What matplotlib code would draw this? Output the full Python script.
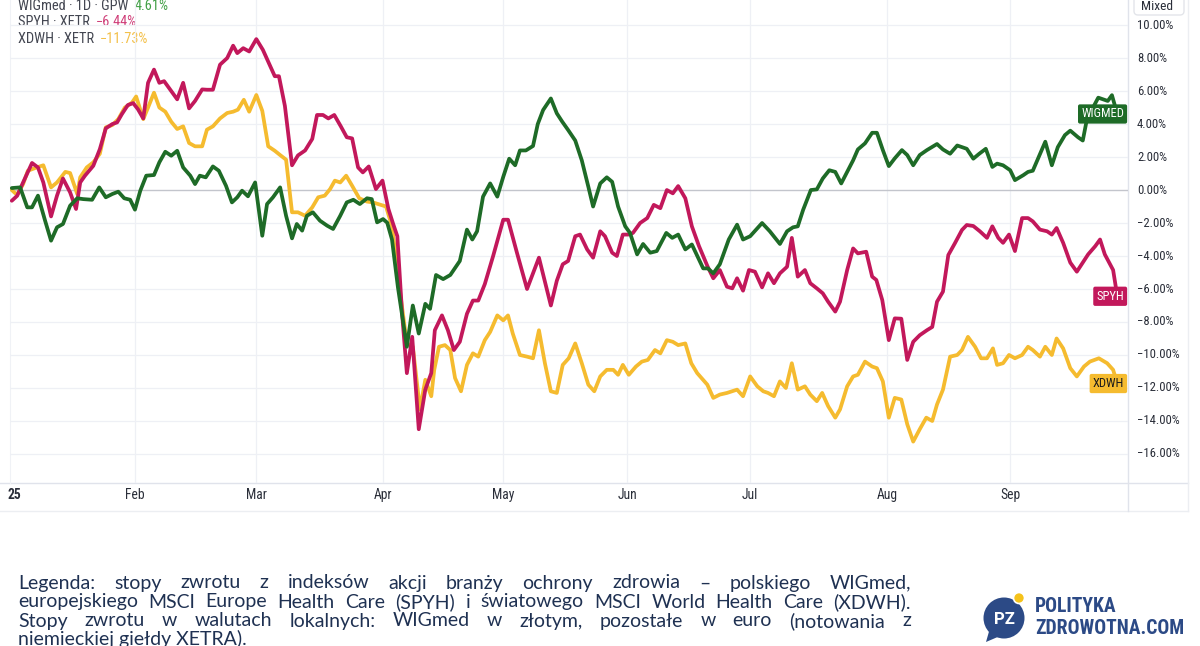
import matplotlib
matplotlib.use("Agg")
import matplotlib.pyplot as plt
from matplotlib import font_manager
from matplotlib.font_manager import FontProperties
from matplotlib.patches import Circle, FancyBboxPatch, Polygon

# ---------------- data (x = trading session number in 2025, y = % return) ----------------
month_labels = ["25", "Feb", "Mar", "Apr", "May", "Jun", "Jul", "Aug", "Sep"]
month_sessions = [1.8, 22, 42.4, 63.7, 83.9, 104.7, 125.4, 148.4, 169.1]
y_ticks = [10, 8, 6, 4, 2, 0, -2, -4, -6, -8, -10, -12, -14, -16]

wigmed = [(1.3, 0.12), (2.7, 0.16), (3.9, -1.05), (4.7, -1.05), (5.7, -0.34), (6.9, -1.86), (7.9, -3.07),
          (8.9, -2.26), (9.9, -2.06), (11.1, -0.95), (12.3, -0.5), (13.3, -0.55), (14.8, -0.59), (16.0, 0.16),
          (17.1, -0.44), (18.2, -0.24), (19.2, -0.1), (20.2, -0.5), (21.2, -0.59), (22.0, -1.19), (22.9, -0.04),
          (23.9, 0.87), (25.2, 0.91), (26.1, 1.68), (27.1, 2.32), (28.1, 2.08), (29.1, 2.38), (30.1, 1.37),
          (31.3, 0.87), (32.1, 0.36), (32.9, 0.87), (33.9, 0.77), (35.1, 1.43), (36.1, 1.17), (37.3, 0.26),
          (38.3, -0.75), (39.2, -0.44), (40.0, -0.04), (41.0, -0.38), (42.2, 0.46), (43.4, -2.77), (44.2, -0.85),
          (45.2, -0.44), (46.4, 0.16), (47.4, -1.56), (48.4, -2.93), (49.2, -2.06), (50.1, -2.46), (50.9, -1.56),
          (51.9, -1.35), (53.1, -1.86), (54.3, -2.16), (55.3, -2.36), (56.5, -1.56), (57.6, -0.75), (58.7, -0.59),
          (59.8, -0.85), (61.0, -0.5), (61.8, -0.55), (62.7, -1.96), (63.7, -1.76), (64.4, -1.98), (65.2, -3.0),
          (66.2, -5.9), (67.7, -9.5), (68.7, -7.0), (69.7, -8.7), (70.8, -6.9), (71.6, -7.2), (72.6, -5.15),
          (73.8, -5.4), (75.0, -5.15), (76.6, -4.3), (77.8, -2.4), (78.7, -3.0), (79.5, -2.5), (80.5, -0.4),
          (81.7, 0.4), (82.9, -0.4), (83.9, 0.8), (84.9, 1.9), (85.9, 1.5), (86.7, 2.4), (87.7, 2.4), (88.9, 2.67),
          (89.7, 4.0), (90.6, 4.85), (91.9, 5.55), (92.9, 4.65), (93.8, 4.15), (94.8, 3.64), (96.0, 3.0),
          (97.1, 1.8), (98.2, 0.2), (99.0, -1.0), (100.2, 0.4), (101.3, 0.77), (102.2, 0.5), (103.2, -1.0),
          (104.4, -2.2), (105.2, -2.6), (106.4, -3.9), (107.4, -3.27), (108.6, -3.8), (109.7, -3.7), (111.3, -2.6),
          (112.3, -2.9), (113.3, -2.7), (114.5, -3.6), (115.6, -3.3), (117.5, -4.75), (118.3, -4.75), (119.2, -5.05),
          (120.3, -4.5), (121.8, -3.0), (123.2, -2.1), (124.2, -3.0), (125.4, -2.8), (127.4, -2.0), (128.7, -2.5),
          (130.4, -3.27), (131.6, -2.5), (132.6, -2.26), (133.4, -2.2), (134.3, -1.2), (135.6, 0.0), (136.6, 0.04),
          (137.6, 0.7), (138.7, 1.2), (139.7, 1.1), (140.7, 0.4), (141.7, 1.1), (142.7, 1.8), (143.5, 2.46),
          (144.7, 2.83), (145.9, 3.47), (146.7, 3.47), (147.7, 2.42), (148.7, 1.45), (149.7, 1.92), (150.9, 2.42),
          (151.8, 2.12), (152.8, 1.5), (153.9, 2.12), (155.1, 2.42), (156.8, 2.79), (157.8, 2.46), (159.0, 2.2),
          (160.2, 2.7), (161.8, 2.5), (162.9, 1.9), (163.9, 2.2), (165.0, 2.5), (166.1, 1.4), (166.9, 1.6),
          (167.9, 1.5), (169.1, 1.2), (169.9, 0.6), (171.3, 0.9), (172.1, 1.1), (172.9, 1.17), (175.0, 2.93),
          (176.1, 1.5), (177.1, 2.6), (178.3, 3.33), (179.2, 3.6), (180.5, 3.2), (181.3, 3.0), (182.0, 4.3),
          (183.9, 5.6), (184.7, 5.5), (185.5, 5.4), (186.2, 5.75), (187.1, 4.61)]

spyh = [(1.3, -0.65), (2.2, -0.35), (3.2, 0.46), (4.7, 1.64), (5.7, 1.37), (6.6, 0.46), (7.9, -1.6), (8.9, -0.34),
        (9.9, 0.7), (11.1, -0.14), (12.1, -1.15), (12.8, 0.46), (13.6, 0.87), (15.0, 1.47), (16.1, 2.48),
        (17.1, 3.74), (18.2, 4.0), (19.0, 4.1), (19.8, 4.6), (20.8, 5.15), (21.7, 5.27), (22.5, 4.9), (23.4, 4.34),
        (24.2, 6.5), (25.2, 7.3), (26.1, 6.5), (26.9, 6.6), (27.9, 6.1), (29.1, 5.5), (30.1, 6.5), (31.1, 4.95),
        (32.1, 5.4), (33.3, 6.1), (34.1, 6.08), (35.1, 6.08), (36.3, 7.6), (37.5, 8.0), (38.5, 8.75), (39.2, 8.3),
        (40.2, 8.6), (41.2, 8.4), (42.4, 9.15), (43.5, 8.5), (44.5, 7.7), (45.5, 6.9), (46.2, 6.9), (47.2, 5.1),
        (48.4, 1.5), (49.4, 2.1), (50.6, 2.4), (51.8, 3.1), (52.6, 4.55), (53.6, 4.55), (54.5, 4.34), (55.5, 4.55),
        (56.6, 3.86), (57.6, 3.2), (58.5, 3.13), (59.5, 1.37), (60.3, 1.07), (61.3, 1.43), (62.5, 0.06),
        (63.6, 0.57), (64.6, -1.15), (65.4, -2.06), (66.1, -2.8), (66.9, -7.5), (67.7, -11.1), (68.6, -8.9),
        (69.7, -14.5), (70.8, -12.1), (71.8, -11.1), (72.4, -8.5), (73.6, -7.6), (74.6, -8.5), (75.6, -9.7),
        (76.6, -9.2), (77.8, -7.5), (78.8, -6.7), (79.7, -6.7), (80.8, -5.7), (82.2, -4.0), (83.9, -1.8),
        (84.7, -1.8), (86.2, -3.8), (87.9, -6.0), (89.9, -4.1), (91.9, -7.0), (92.9, -5.5), (93.9, -4.5),
        (94.8, -4.3), (96.0, -2.8), (96.8, -2.7), (98.0, -3.6), (99.0, -4.1), (100.2, -2.5), (101.0, -2.8),
        (102.2, -3.8), (103.0, -4.0), (104.0, -2.7), (104.9, -2.7), (105.7, -2.6), (106.9, -2.0), (108.1, -1.7),
        (109.2, -0.9), (110.3, -1.1), (111.4, 0.0), (112.4, -0.2), (113.3, 0.24), (114.5, -0.5), (115.6, -2.2),
        (116.8, -3.4), (118.2, -4.6), (119.2, -5.35), (120.3, -4.85), (121.5, -5.86), (122.4, -5.96),
        (123.2, -5.35), (124.2, -6.1), (125.2, -4.85), (126.2, -4.95), (127.4, -5.9), (128.4, -5.05),
        (129.4, -5.65), (130.4, -5.05), (131.6, -4.65), (132.4, -2.9), (133.4, -5.25), (134.6, -4.85),
        (135.5, -5.65), (136.6, -5.96), (137.6, -6.26), (138.5, -6.77), (139.7, -7.37), (140.5, -6.77),
        (141.7, -4.85), (142.7, -3.54), (143.5, -3.84), (144.9, -3.74), (145.9, -5.25), (146.6, -5.45),
        (147.6, -6.67), (148.7, -9.1), (149.7, -7.78), (150.8, -7.8), (151.8, -10.3), (152.8, -9.2), (153.9, -8.8),
        (155.1, -8.5), (156.0, -8.3), (156.8, -6.77), (157.8, -6.16), (158.7, -3.94), (159.8, -3.23),
        (161.0, -2.42), (161.8, -2.12), (162.9, -2.18), (164.0, -2.5), (165.2, -2.9), (166.1, -2.2), (167.1, -2.9),
        (167.9, -3.2), (168.9, -2.7), (169.9, -3.7), (171.1, -1.7), (172.1, -1.7), (172.9, -1.9), (174.1, -2.4),
        (175.3, -2.5), (176.1, -2.7), (176.9, -2.3), (178.0, -3.2), (179.2, -4.4), (180.3, -4.95), (181.3, -4.4),
        (182.2, -3.9), (183.4, -3.4), (184.2, -3.0), (185.0, -3.9), (186.4, -4.85), (187.1, -6.44)]

xdwh = [(1.3, 0.0), (2.2, -0.3), (3.2, 0.36), (4.0, 1.17), (5.5, 1.37), (6.6, 1.5), (7.9, 0.16), (8.9, 0.46),
        (10.3, 1.1), (11.1, 1.03), (12.3, -0.24), (12.8, 0.77), (13.9, 1.37), (15.0, 1.68), (16.1, 2.2),
        (17.1, 3.8), (18.2, 3.94), (19.2, 4.3), (20.3, 5.0), (21.5, 5.3), (22.2, 5.67), (23.4, 4.3), (24.2, 5.0),
        (25.2, 5.9), (26.1, 5.0), (27.1, 4.75), (28.1, 4.14), (29.1, 3.7), (30.1, 3.86), (31.1, 2.85), (32.1, 2.65),
        (33.3, 2.65), (34.1, 3.66), (35.1, 3.86), (36.3, 4.34), (37.5, 4.67), (38.5, 4.75), (39.3, 4.87),
        (40.3, 5.47), (41.2, 4.75), (42.4, 5.76), (43.4, 4.8), (44.4, 2.65), (45.5, 2.38), (46.4, 2.12),
        (47.4, 1.84), (48.4, -1.35), (49.4, -1.35), (50.6, -1.56), (51.8, -1.05), (52.8, -0.44), (53.9, -0.34),
        (54.8, 0.06), (55.6, 0.57), (56.5, 0.46), (57.5, 0.87), (58.5, 0.26), (59.7, -0.5), (61.0, -0.7),
        (62.0, -0.75), (63.2, -0.89), (64.2, -1.0), (65.2, -2.2), (66.6, -6.3), (67.7, -9.3), (68.7, -9.5),
        (69.9, -13.3), (70.8, -11.5), (71.8, -12.5), (72.3, -10.9), (73.1, -9.5), (74.1, -9.4), (75.0, -9.7),
        (75.8, -11.4), (76.8, -12.2), (77.8, -10.6), (78.8, -9.9), (79.7, -10.1), (80.8, -9.1), (81.7, -8.6),
        (82.9, -7.6), (83.9, -7.9), (84.7, -7.6), (85.5, -8.7), (86.7, -10.0), (87.9, -10.1), (88.9, -10.2),
        (89.9, -8.5), (90.9, -10.5), (91.9, -12.2), (92.9, -12.3), (93.9, -10.6), (94.9, -10.2), (96.0, -9.3),
        (97.1, -10.5), (98.2, -11.8), (99.2, -12.2), (100.2, -11.3), (101.3, -10.9), (102.4, -10.9),
        (103.2, -11.2), (104.0, -10.6), (105.0, -11.2), (106.2, -10.7), (107.2, -10.4), (108.2, -10.3),
        (109.4, -9.7), (110.3, -9.9), (111.4, -9.1), (112.4, -9.2), (113.3, -9.4), (114.5, -9.3), (115.5, -10.5),
        (116.5, -11.1), (118.2, -11.8), (119.2, -12.6), (120.3, -12.4), (121.5, -12.3), (123.2, -12.1),
        (124.2, -12.5), (125.4, -11.3), (126.6, -11.9), (127.6, -12.2), (128.4, -12.3), (129.4, -12.5),
        (130.4, -11.6), (131.4, -12.0), (132.4, -10.5), (133.4, -12.1), (134.6, -11.9), (135.5, -12.4),
        (136.6, -12.8), (137.5, -12.3), (138.5, -13.1), (139.7, -13.8), (140.5, -13.3), (141.7, -11.9),
        (142.7, -11.3), (143.5, -11.2), (144.7, -10.4), (145.9, -10.7), (146.7, -10.8), (147.7, -11.6),
        (148.7, -13.8), (149.7, -12.6), (150.8, -12.7), (151.8, -14.2), (152.8, -15.25), (153.9, -14.5),
        (155.0, -13.8), (156.0, -14.0), (156.8, -13.0), (157.8, -12.1), (159.0, -10.1), (160.2, -10.0),
        (161.0, -9.7), (162.0, -8.9), (163.2, -9.5), (164.2, -10.2), (165.2, -10.2), (166.2, -9.6),
        (166.9, -10.6), (167.9, -10.5), (168.9, -10.0), (169.9, -10.2), (171.1, -10.0), (172.1, -9.5),
        (172.9, -9.7), (174.1, -10.1), (175.0, -9.5), (176.1, -10.0), (176.9, -9.0), (178.0, -9.6),
        (179.2, -10.8), (180.3, -11.3), (181.5, -10.7), (182.5, -10.4), (184.0, -10.2), (185.4, -10.5),
        (186.4, -10.9), (187.1, -11.73)]

series_names = ["WIGmed · 1D · GPW", "SPYH · XETR", "XDWH · XETR"]
series_last = ["4.61%", "\u22126.44%", "\u221211.73%"]
series_tags = ["WIGMED", "SPYH", "XDWH"]
series_colors = ["#1e6b27", "#c2185b", "#f5bb2f"]
legend_value_colors = ["#43a047", "#d0407a", "#f3c04a"]
tag_text_colors = ["white", "white", "#1b1b1b"]

caption_lines = [
    "Legenda: stopy zwrotu z indeksów akcji branży ochrony zdrowia – polskiego WIGmed,",
    "europejskiego MSCI Europe Health Care (SPYH) i światowego MSCI World Health Care (XDWH).",
    "Stopy zwrotu w walutach lokalnych: WIGmed w złotym, pozostałe w euro (notowania z",
    "niemieckiej giełdy XETRA).",
]
logo_lines = ["POLITYKA", "ZDROWOTNA.COM"]


# ---------------- fonts ----------------
def _weight(f):
    w = f.weight
    if isinstance(w, (int, float)):
        return int(w)
    return {"bold": 700, "normal": 400, "regular": 400, "book": 400, "medium": 500,
            "semibold": 600, "demibold": 600, "light": 300}.get(str(w).lower(), 400)


def find_narrow(bold=False):
    prefs = ["liberation sans narrow", "roboto condensed", "open sans condensed", "dejavu sans condensed",
             "dejavu sans", "noto sans", "open sans", "roboto"]
    cands = []
    for f in font_manager.fontManager.ttflist:
        nm = f.name.lower()
        st = str(f.stretch).lower()
        narrowish = ("narrow" in nm or "condensed" in nm or
                     st in ("condensed", "semi-condensed", "extra-condensed"))
        if not narrowish or f.style != "normal":
            continue
        w = _weight(f)
        if bold and w < 600:
            continue
        if not bold and not (380 <= w <= 420):
            continue
        rank = next((i for i, p in enumerate(prefs) if nm.startswith(p)), len(prefs))
        cands.append((rank, f.fname))
    if cands:
        cands.sort()
        return cands[0][1]
    return None


avail = {f.name for f in font_manager.fontManager.ttflist}
ui_family = next((n for n in ["Roboto", "Liberation Sans", "DejaVu Sans"] if n in avail), "DejaVu Sans")
cap_family = next((n for n in ["Lato", "Open Sans", "Liberation Sans"] if n in avail), "DejaVu Sans")
narrow_reg = find_narrow(False)
narrow_bold = find_narrow(True)


def fp_ui(size, bold=False):
    path = narrow_bold if bold else narrow_reg
    if path:
        return FontProperties(fname=path, size=size)
    return FontProperties(family=[ui_family, "DejaVu Sans"], size=size,
                          weight="bold" if bold else "normal")


def fp_cap(size):
    return FontProperties(family=[cap_family, "DejaVu Sans"], size=size)


plt.rcParams["font.family"] = [ui_family, "DejaVu Sans"]

W, H = 1200, 646
fig = plt.figure(figsize=(W / 100, H / 100), dpi=100)
fig.patch.set_facecolor("white")
renderer = fig.canvas.get_renderer()

# pixel-space overlay for frame lines, text and logo
deco = fig.add_axes([0, 0, 1, 1], zorder=0)
deco.set_xlim(0, W)
deco.set_ylim(H, 0)
deco.axis("off")


def text_w(s, fp):
    t = deco.text(0, 0, s, fontproperties=fp)
    w = t.get_window_extent(renderer).width
    t.remove()
    return w


def fit(s, target_px, maker, bold=None, cap=None):
    fp = maker(10) if bold is None else maker(10, bold)
    size = 10 * target_px / text_w(s, fp)
    if cap is not None:
        size = min(size, cap)
    return size


L, R, T, B = 10, 1128, 0, 483
ax = fig.add_axes([L / W, 1 - B / H, (R - L) / W, (B - T) / H], zorder=2)
ax.set_facecolor("none")
ax.set_xlim(1.0, 188.9)
ax.set_ylim(-17.76, 11.52)

grid_c = "#eef0f5"
for y in y_ticks:
    if y == 0:
        ax.axhline(y, color="#c3c5cc", lw=1.0, zorder=1)
    else:
        ax.axhline(y, color=grid_c, lw=0.9, zorder=0)
for xm in month_sessions[1:]:
    ax.axvline(xm, color=grid_c, lw=0.9, zorder=0)

for data, col in zip([wigmed, spyh, xdwh][::-1], series_colors[::-1]):
    xs = [p[0] for p in data]
    ys = [p[1] for p in data]
    ax.plot(xs, ys, color=col, lw=2.7, solid_joinstyle="round", solid_capstyle="round", zorder=3)

for s in ax.spines.values():
    s.set_visible(False)
ax.set_xticks([])
ax.set_yticks([])

# right price scale labels
tick_size = fit("\u221216.00%", 42, fp_ui, cap=10.5)
for y in y_ticks:
    lab = ("\u2212" if y < 0 else "") + f"{abs(y):.2f}%"
    ax.annotate(lab, xy=(1.0, y), xycoords=ax.get_yaxis_transform(), xytext=(9, 0),
                textcoords="offset pixels", ha="left", va="center",
                fontproperties=fp_ui(tick_size), color="#2a2e39", annotation_clip=False)

# end-of-series tags
tag_size = fit("WIGMED", 43, fp_ui, cap=10)
for data, tag, col, tc in zip([wigmed, spyh, xdwh], series_tags, series_colors, tag_text_colors):
    ax.annotate(tag, xy=(1.0, data[-1][1]), xycoords=ax.get_yaxis_transform(), xytext=(-4, 0),
                textcoords="offset pixels", ha="right", va="center",
                fontproperties=fp_ui(tag_size), color=tc, zorder=6, annotation_clip=False,
                bbox=dict(boxstyle="round,pad=0.25,rounding_size=0.15", fc=col, ec=col, lw=0))

# month labels
month_size = fit("Aug", 21, fp_ui, cap=10.5)
for xm, lab in zip(month_sessions, month_labels):
    ax.annotate(lab, xy=(xm, 0), xycoords=ax.get_xaxis_transform(), xytext=(0, -12),
                textcoords="offset pixels", ha="center", va="center",
                fontproperties=fp_ui(month_size, lab == "25"), color="#2a2e39", annotation_clip=False)

# frame lines
line_c = "#e0e3eb"
deco.plot([0, 1188], [B, B], color=line_c, lw=1.0)
deco.plot([0, 1188], [511, 511], color="#eceef2", lw=1.0)
deco.plot([R, R], [0, 511], color=line_c, lw=1.0)
deco.plot([1188, 1188], [0, 511], color="#eceef2", lw=1.0)
deco.plot([L, L], [0, B], color="#f0f2f6", lw=0.8)

# "Mixed" button
deco.add_patch(FancyBboxPatch((1134, -12), 50, 27, boxstyle="round,pad=0,rounding_size=4",
                              fc="white", ec="#e3e5ea", lw=1.0))
deco.text(1157, 6, "Mixed", ha="center", va="center", fontproperties=fp_ui(fit("Mixed", 32, fp_ui, cap=10.5)),
          color="#2a2e39")

# legend (top-left)
leg_size = fit("SPYH · XETR", 72, fp_ui, cap=10.5)
legend_rows_y = [6, 22, 39]
for i, (nm, val, vc) in enumerate(zip(series_names, series_last, legend_value_colors)):
    t = deco.text(18, legend_rows_y[i], nm, ha="left", va="center", fontproperties=fp_ui(leg_size),
                  color="#434651")
    bb = t.get_window_extent(renderer)
    deco.text(bb.x1 + 6, legend_rows_y[i], val, ha="left", va="center", fontproperties=fp_ui(leg_size),
              color=vc)

# caption (justified lines)
cap_color = "#1f3152"
cap_left, cap_right = 18, 911
cap_y = [583, 602, 621, 639]
base = 12.0
nat = max(sum(text_w(w, fp_cap(base)) for w in ln.split()) + 0.22 * base * 1.39 * (len(ln.split()) - 1)
          for ln in caption_lines[:3])
cap_size = min(14.0, base * (cap_right - cap_left) / nat)

for i, ln in enumerate(caption_lines):
    words = ln.split()
    y = cap_y[i]
    if i < 3:
        widths = [text_w(w, fp_cap(cap_size)) for w in words]
        gap = (cap_right - cap_left - sum(widths)) / (len(words) - 1)
        x = cap_left
        for w, wd in zip(words, widths):
            deco.text(x, y, w, ha="left", va="center", fontproperties=fp_cap(cap_size), color=cap_color)
            x += wd + gap
    else:
        deco.text(cap_left, y, ln, ha="left", va="center", fontproperties=fp_cap(cap_size), color=cap_color)

# logo
logo_blue = "#2c4a86"
deco.add_patch(Polygon([[990, 628], [986, 642], [1000, 636]], closed=True, fc=logo_blue, ec="none"))
deco.add_patch(Circle((1004, 618), 20.5, fc=logo_blue, ec="none"))
deco.add_patch(Circle((1019, 598), 5.5, fc="#f5c21b", ec="white", lw=1.2))
deco.text(1004, 619, "PZ", ha="center", va="center", fontsize=12, fontweight="bold", color="white",
          family=[ui_family, "DejaVu Sans"])
logo_size = fit(logo_lines[1], 148, fp_ui, bold=True, cap=15)
deco.text(1035, 606, logo_lines[0], ha="left", va="center", fontproperties=fp_ui(logo_size, True),
          color=logo_blue)
deco.text(1035, 629, logo_lines[1], ha="left", va="center", fontproperties=fp_ui(logo_size, True),
          color=logo_blue)

fig.savefig("out.png", dpi=100, facecolor="white")
